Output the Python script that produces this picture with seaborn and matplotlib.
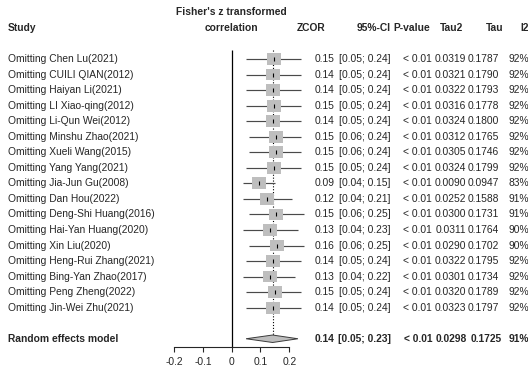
"""Leave-one-out forest plot (Fisher's z transformed correlation)."""

import matplotlib

matplotlib.use("Agg")
import matplotlib.pyplot as plt
import matplotlib.transforms as mtransforms
import pandas as pd
import seaborn as sns

# ---- data -----------------------------------------------------------------
studies = [
    "Chen Lu(2021)", "CUILI QIAN(2012)", "Haiyan Li(2021)", "LI Xiao-qing(2012)",
    "Li-Qun Wei(2012)", "Minshu Zhao(2021)", "Xueli Wang(2015)", "Yang Yang(2021)",
    "Jia-Jun Gu(2008)", "Dan Hou(2022)", "Deng-Shi Huang(2016)", "Hai-Yan Huang(2020)",
    "Xin Liu(2020)", "Heng-Rui Zhang(2021)", "Bing-Yan Zhao(2017)", "Peng Zheng(2022)",
    "Jin-Wei Zhu(2021)",
]
zcor = [0.146, 0.144, 0.144, 0.146, 0.144, 0.153, 0.153, 0.146, 0.094,
        0.124, 0.154, 0.134, 0.158, 0.143, 0.134, 0.149, 0.143]
ci_low = [0.05, 0.05, 0.05, 0.05, 0.05, 0.06, 0.06, 0.05, 0.04,
          0.04, 0.06, 0.04, 0.06, 0.05, 0.04, 0.05, 0.05]
ci_high = [0.24, 0.24, 0.24, 0.24, 0.24, 0.24, 0.24, 0.24, 0.15,
           0.21, 0.25, 0.23, 0.25, 0.24, 0.22, 0.24, 0.24]
p_value = ["< 0.01"] * 17
tau2 = [0.0319, 0.0321, 0.0322, 0.0316, 0.0324, 0.0312, 0.0305, 0.0324, 0.0090,
        0.0252, 0.0300, 0.0311, 0.0290, 0.0322, 0.0301, 0.0320, 0.0323]
tau = [0.1787, 0.1790, 0.1793, 0.1778, 0.1800, 0.1765, 0.1746, 0.1799, 0.0947,
       0.1588, 0.1731, 0.1764, 0.1702, 0.1795, 0.1734, 0.1789, 0.1797]
i2 = [92, 92, 92, 92, 92, 92, 92, 92, 83, 91, 91, 90, 90, 92, 92, 92, 92]

pooled_label = "Random effects model"
pooled_zcor = 0.142
pooled_low = 0.05
pooled_high = 0.23
pooled_p = "< 0.01"
pooled_tau2 = 0.0298
pooled_tau = 0.1725
pooled_i2 = 91

x_ticks = [-0.2, -0.1, 0, 0.1, 0.2]
x_tick_labels = ["-0.2", "-0.1", "0", "0.1", "0.2"]

# ---- layout ---------------------------------------------------------------
W, H = 528, 371
ROW_POOLED = len(studies) + 1
Y_TOP, Y_BOTTOM = -3.80, 18.55
FS = 7.4
BOX = [(-0.5, -0.42), (0.5, -0.42), (0.5, 0.42), (-0.5, 0.42), (-0.5, -0.42)]

sns.set_style("white")
plt.rcParams["font.family"] = ["Liberation Sans", "DejaVu Sans"]
plt.rcParams["font.size"] = FS

df = pd.DataFrame({
    "study": studies, "zcor": zcor, "low": ci_low, "high": ci_high,
    "row": range(len(studies)),
})

fig = plt.figure(figsize=(W / 100, H / 100), dpi=100)
ax = fig.add_axes([174 / W, (H - 347.3) / H, (289.3 - 174) / W, 347.3 / H])
ax.set_xlim(-0.2, 0.2)
ax.set_ylim(Y_BOTTOM, Y_TOP)

# reference lines
ax.vlines(0, -0.58, Y_BOTTOM, color="black", lw=0.9, clip_on=False)
ax.vlines(pooled_zcor, -0.58, ROW_POOLED - 0.24, color="black", lw=0.8,
          linestyles=(0, (1, 1.6)), clip_on=False)

# confidence intervals, boxes, estimate marks
ax.hlines(df["row"], df["low"], df["high"], color="#4a4a4a", lw=0.85, clip_on=False)
sns.scatterplot(data=df, x="zcor", y="row", marker=BOX, s=102, color="#bebebe",
                edgecolor="none", legend=False, ax=ax, clip_on=False, zorder=3)
ax.scatter(df["zcor"], df["row"], marker="|", s=9, color="black", lw=0.8, zorder=4)

# pooled diamond
ax.fill([pooled_low, pooled_zcor, pooled_high, pooled_zcor],
        [ROW_POOLED, ROW_POOLED - 0.24, ROW_POOLED, ROW_POOLED + 0.24],
        facecolor="#bebebe", edgecolor="#3a3a3a", lw=0.7, clip_on=False, zorder=3)

# axis styling
for side in ["top", "right", "left"]:
    ax.spines[side].set_visible(False)
ax.spines["bottom"].set_bounds(-0.2, 0.2)
ax.spines["bottom"].set_linewidth(0.8)
ax.set_xticks(x_ticks)
ax.set_xticklabels(x_tick_labels)
ax.set_yticks([])
ax.tick_params(axis="x", direction="out", length=3.8, width=0.8, pad=3.2,
               labelsize=FS, bottom=True)
ax.set_xlabel("")
ax.set_ylabel("")

# ---- text columns ---------------------------------------------------------
tr = mtransforms.blended_transform_factory(fig.transFigure, ax.transData)


def put(px, row, s, ha="right", bold=False):
    ax.text(px / W, row, s, transform=tr, ha=ha, va="center",
            fontweight="bold" if bold else "normal", fontsize=FS, clip_on=False)


# headers
ax.text(0, -3, "Fisher's z transformed", ha="center", va="center",
        fontweight="bold", fontsize=FS)
ax.text(0, -2, "correlation", ha="center", va="center", fontweight="bold",
        fontsize=FS)
put(8, -2, "Study", ha="left", bold=True)
put(325, -2, "ZCOR", bold=True)
put(390.5, -2, "95%-CI", bold=True)
put(430.5, -2, "P-value", bold=True)
put(463.5, -2, "Tau2", bold=True)
put(503.5, -2, "Tau", bold=True)
put(520, -2, "I2", ha="left", bold=True)

for i, row in df.iterrows():
    put(8, i, f"Omitting {studies[i]}", ha="left")
    put(334.5, i, f"{zcor[i]:.2f}")
    put(390.5, i, f"[{ci_low[i]:.2f}; {ci_high[i]:.2f}]")
    put(432, i, p_value[i])
    put(466, i, f"{tau2[i]:.4f}")
    put(499, i, f"{tau[i]:.4f}")
    put(529, i, f"{i2[i]}%")

put(8, ROW_POOLED, pooled_label, ha="left", bold=True)
put(334.5, ROW_POOLED, f"{pooled_zcor:.2f}", bold=True)
put(390.5, ROW_POOLED, f"[{pooled_low:.2f}; {pooled_high:.2f}]", bold=True)
put(432.5, ROW_POOLED, pooled_p, bold=True)
put(466.5, ROW_POOLED, f"{pooled_tau2:.4f}", bold=True)
put(502, ROW_POOLED, f"{pooled_tau:.4f}", bold=True)
put(529, ROW_POOLED, f"{pooled_i2}%", bold=True)

fig.savefig("out.png", dpi=100)
plt.close(fig)
